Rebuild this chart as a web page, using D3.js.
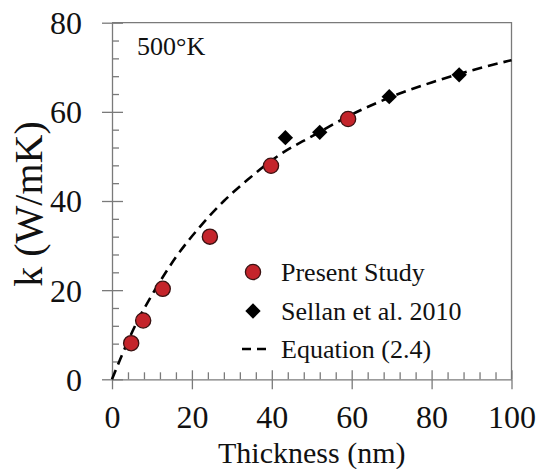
<!DOCTYPE html>
<html>
<head>
<meta charset="utf-8">
<script src="https://cdn.jsdelivr.net/npm/d3@7"></script>
<style>
  body { margin: 0; background: #fff; }
</style>
</head>
<body>
<div id="chart"></div>
<script>
// data
const presentX = [4.8, 7.8, 12.7, 24.5, 39.8, 59.1];
const presentK = [8.1, 13.2, 20.3, 32.0, 47.9, 58.4];

const sellanX = [43.4, 52.0, 69.4, 86.9];
const sellanK = [54.2, 55.4, 63.4, 68.3];

// points
const eqX = [0, 2, 6, 10, 16, 22, 28, 34, 42, 50, 60, 70, 80, 90, 100];
const eqK = [0, 4.4, 12.4, 18.9, 27.4, 34.2, 40.0, 44.8, 50.4, 54.5, 59.4, 63.4, 66.6, 69.3, 71.6];

const xMajor = [0, 20, 40, 60, 80, 100];
const yMajor = [0, 20, 40, 60, 80];
const xMinor = d3.range(0, 101, 4).filter(v => v % 20 != 0);
const yMinor = d3.range(0, 81, 4).filter(v => v % 20 != 0);

const legendLabels = ["Present Study", "Sellan et al. 2010", "Equation (2.4)"];

const W = 536, H = 469;
const serif = "'Liberation Serif', 'Times New Roman', Tinos, 'DejaVu Serif', serif";

const svg = d3.select("#chart").append("svg")
  .attr("width", W)
  .attr("height", H)
  .attr("font-family", serif);

const x = d3.scaleLinear().domain([0, 100]).range([112, 511.5]);
const y = d3.scaleLinear().domain([0, 80]).range([379.3, 22.7]);

const axisColor = "#7a7a7a";

function styleAxis(g, keepDomain) {
  g.attr("font-family", serif);
  g.selectAll(".tick line").attr("stroke", axisColor).attr("stroke-width", 1.3);
  if (keepDomain) g.select(".domain").attr("stroke", axisColor).attr("stroke-width", 1.3);
  else g.select(".domain").remove();
}

// top and right frame
svg.append("path")
  .attr("d", `M${x(0)},${y(80)}H${x(100)}V${y(0)}`)
  .attr("fill", "none")
  .attr("stroke", axisColor)
  .attr("stroke-width", 1.3);

// x axis: labels + outward major ticks
const xg = svg.append("g")
  .attr("transform", `translate(0,${y(0)})`)
  .call(d3.axisBottom(x).tickValues(xMajor).tickSize(10).tickSizeOuter(0).tickPadding(16));
styleAxis(xg, true);
xg.selectAll("text").attr("font-size", 32).attr("fill", "#111");

svg.append("g")
  .attr("transform", `translate(0,${y(0)})`)
  .call(d3.axisBottom(x).tickValues(xMajor).tickSize(-9).tickFormat(""))
  .call(g => styleAxis(g, false));
svg.append("g")
  .attr("transform", `translate(0,${y(0)})`)
  .call(d3.axisBottom(x).tickValues(xMinor).tickSize(-7).tickFormat(""))
  .call(g => styleAxis(g, false));

// y axis
const yg = svg.append("g")
  .attr("transform", `translate(${x(0)},0)`)
  .call(d3.axisLeft(y).tickValues(yMajor).tickSize(10).tickSizeOuter(0).tickPadding(20));
styleAxis(yg, true);
yg.selectAll("text").attr("font-size", 32).attr("fill", "#111").attr("dy", "0.34em");

svg.append("g")
  .attr("transform", `translate(${x(0)},0)`)
  .call(d3.axisLeft(y).tickValues(yMajor).tickSize(-11).tickFormat(""))
  .call(g => styleAxis(g, false));
svg.append("g")
  .attr("transform", `translate(${x(0)},0)`)
  .call(d3.axisLeft(y).tickValues(yMinor).tickSize(-7).tickFormat(""))
  .call(g => styleAxis(g, false));

// axis titles
svg.append("text")
  .attr("x", (x(0) + x(100)) / 2)
  .attr("y", 463)
  .attr("text-anchor", "middle")
  .attr("font-size", 30)
  .attr("fill", "#111")
  .text("Thickness (nm)");

svg.append("text")
  .attr("transform", "translate(42,204) rotate(-90)")
  .attr("text-anchor", "middle")
  .attr("font-size", 40)
  .attr("fill", "#111")
  .text("k (W/mK)");

svg.append("text")
  .attr("x", 137)
  .attr("y", 55)
  .attr("font-size", 26)
  .attr("fill", "#111")
  .text("500°K");

// equation curve
const eqData = eqX.map((v, i) => [v, eqK[i]]);
const line = d3.line()
  .x(d => x(d[0]))
  .y(d => y(d[1]))
  .curve(d3.curveMonotoneX);

svg.append("path")
  .datum(eqData)
  .attr("d", line)
  .attr("fill", "none")
  .attr("stroke", "#000")
  .attr("stroke-width", 2.6)
  .attr("stroke-dasharray", "10,6");

// markers
const diamond = d3.symbol().type(d3.symbolDiamond2).size(150);
const circleFill = "#c4242b", circleStroke = "#3a1212";

svg.append("g").selectAll("path")
  .data(sellanX.map((v, i) => [v, sellanK[i]]))
  .join("path")
  .attr("d", diamond)
  .attr("transform", d => `translate(${x(d[0])},${y(d[1])})`)
  .attr("fill", "#000");

svg.append("g").selectAll("circle")
  .data(presentX.map((v, i) => [v, presentK[i]]))
  .join("circle")
  .attr("cx", d => x(d[0]))
  .attr("cy", d => y(d[1]))
  .attr("r", 7.6)
  .attr("fill", circleFill)
  .attr("stroke", circleStroke)
  .attr("stroke-width", 1.3);

// legend
const legend = svg.append("g");
const rowY = [272, 311, 349];

legend.append("circle")
  .attr("cx", 253).attr("cy", rowY[0]).attr("r", 7.6)
  .attr("fill", circleFill).attr("stroke", circleStroke).attr("stroke-width", 1.3);
legend.append("path")
  .attr("d", diamond)
  .attr("transform", `translate(253,${rowY[1]})`)
  .attr("fill", "#000");
legend.append("line")
  .attr("x1", 242).attr("x2", 266)
  .attr("y1", rowY[2]).attr("y2", rowY[2])
  .attr("stroke", "#000").attr("stroke-width", 2.6)
  .attr("stroke-dasharray", "9,6");

legend.selectAll("text.lab")
  .data(legendLabels)
  .join("text")
  .attr("class", "lab")
  .attr("x", 281)
  .attr("y", (d, i) => rowY[i] + 9)
  .attr("font-size", 26)
  .attr("fill", "#111")
  .text(d => d);
</script>
</body>
</html>
